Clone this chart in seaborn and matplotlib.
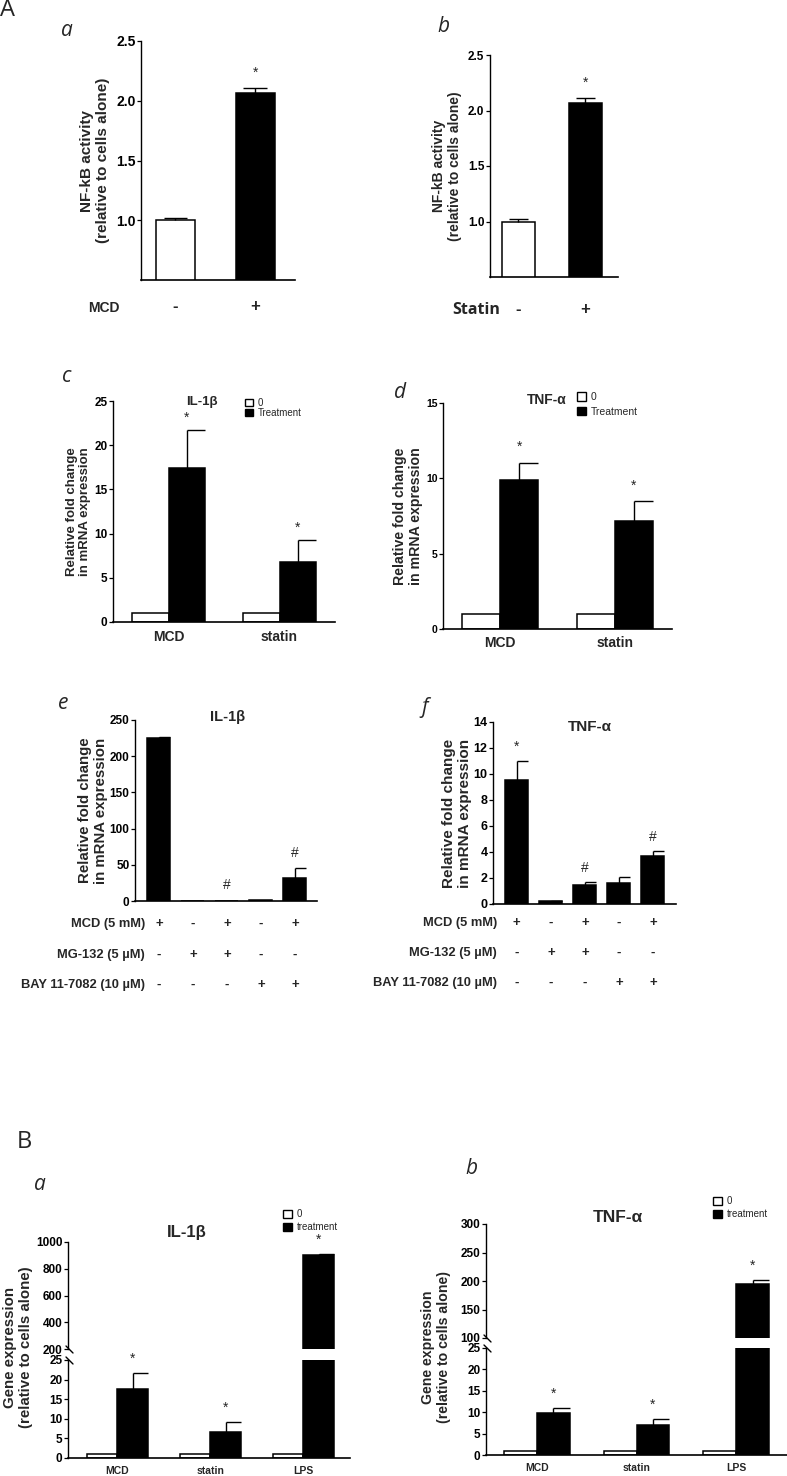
import numpy as np
import pandas as pd
import matplotlib
matplotlib.use('Agg')
import matplotlib.pyplot as plt
import matplotlib.transforms as mtransforms
from matplotlib.patches import Patch
import seaborn as sns

# ---------------- data ----------------
# A a/b: NF-kB activity
nfkb_cond = ['-', '+']
nfkb_mcd = [1.0, 2.065]
nfkb_mcd_err = [0.022, 0.045]
nfkb_statin = [1.0, 2.07]
nfkb_statin_err = [0.024, 0.04]

# A c/d: mRNA fold change
mrna_groups = ['MCD', 'statin']
il1b_ctrl = [1.0, 1.0]
il1b_treat = [17.4, 6.8]
il1b_treat_err = [4.3, 2.5]
tnfa_ctrl = [1.0, 1.0]
tnfa_treat = [9.9, 7.2]
tnfa_treat_err = [1.15, 1.3]

# A e/f: inhibitors
inhib_mcd = ['+', '-', '+', '-', '+']
inhib_mg132 = ['-', '+', '+', '-', '-']
inhib_bay = ['-', '-', '-', '+', '+']
inhib_rows = ['MCD (5 mM)', 'MG-132 (5 \u00b5M)', 'BAY 11-7082 (10 \u00b5M)']
il1b_inhib = [225.5, 0.5, 0.5, 1.0, 32.2]
il1b_inhib_err = [1.5, 0.0, 0.0, 0.0, 13.0]
il1b_inhib_mark = ['', '', '#', '', '#']
tnfa_inhib = [9.55, 0.22, 1.46, 1.64, 3.72]
tnfa_inhib_err = [1.45, 0.03, 0.26, 0.41, 0.35]
tnfa_inhib_mark = ['*', '', '#', '', '#']

# B a/b: gene expression
gene_groups = ['MCD', 'statin', 'LPS']
il1b_gene_ctrl = [1.0, 1.0, 1.0]
il1b_gene_treat = [17.5, 6.7, 905.0]
il1b_gene_err = [4.3, 2.6, 6.0]
tnfa_gene_ctrl = [1.0, 1.0, 1.0]
tnfa_gene_treat = [9.8, 7.1, 195.5]
tnfa_gene_err = [1.2, 1.4, 7.0]

# ---------------- style ----------------
sns.set_theme(style='ticks')
plt.rcParams['font.family'] = ['Liberation Sans', 'DejaVu Sans']
plt.rcParams['font.weight'] = 'bold'
plt.rcParams['axes.labelweight'] = 'bold'
plt.rcParams['axes.edgecolor'] = 'black'

W, H = 787, 1476
fig = plt.figure(figsize=(W / 100, H / 100), dpi=100)
fig.patch.set_facecolor('white')


def px_axes(x0, y0, x1, y1):
    return fig.add_axes([x0 / W, 1 - y1 / H, (x1 - x0) / W, (y1 - y0) / H])


def px_text(x, y, s, **kw):
    fig.text(x / W, 1 - y / H, s, **kw)


def style(ax, tick_size, xlab_size=10, xpad=4):
    sns.despine(ax=ax)
    ax.spines['left'].set_linewidth(1)
    ax.spines['bottom'].set_linewidth(1.2)
    ax.tick_params(axis='x', length=0, labelsize=xlab_size, pad=xpad)
    ax.tick_params(axis='y', length=3, width=0.9, labelsize=tick_size, pad=1, colors='black')
    ax.set_xlabel('')
    ax.set_ylabel('')
    ax.set_facecolor('none')


def simple_bars(ax, cats, vals, width):
    df = pd.DataFrame({'cond': cats, 'value': vals})
    sns.barplot(data=df, x='cond', y='value', hue='cond',
                palette={'-': 'white', '+': 'black'}, width=width,
                edgecolor='black', linewidth=1.1, errorbar=None,
                legend=False, ax=ax)
    return list(ax.patches)


def lane_bars(ax, vals, width):
    # one lane per treatment combination
    lanes = [m + g + b for m, g, b in zip(inhib_mcd, inhib_mg132, inhib_bay)]
    df = pd.DataFrame({'lane': lanes, 'value': vals})
    sns.barplot(data=df, x='lane', y='value', color='black', saturation=1,
                width=width, edgecolor='black', linewidth=1.1, errorbar=None, ax=ax)
    return list(ax.patches)


def grouped_bars(ax, groups, ctrl, treat, width):
    n = len(groups)
    df = pd.DataFrame({'group': list(groups) * 2,
                       'cond': ['0'] * n + ['treatment'] * n,
                       'value': list(ctrl) + list(treat)})
    sns.barplot(data=df, x='group', y='value', hue='cond',
                hue_order=['0', 'treatment'], palette=['white', 'black'],
                width=width, edgecolor='black', linewidth=1.1,
                errorbar=None, legend=False, ax=ax)
    bars = list(ax.patches)
    return bars[:n], bars[n:]


def add_errors(ax, bars, vals, errs, marks, half=True, size=10, off=9):
    for p, v, e, m in zip(bars, vals, errs, marks):
        xc = p.get_x() + p.get_width() / 2
        w = p.get_width()
        if e > 0:
            ax.errorbar([xc], [v], yerr=[[0], [e]], fmt='none',
                        ecolor='black', elinewidth=1, capsize=0)
            if half:
                ax.hlines(v + e, xc, xc + w / 2, colors='black', lw=1)
            else:
                ax.hlines(v + e, xc - w * 0.3, xc + w * 0.3, colors='black', lw=1)
        if m:
            ax.annotate(m, xy=(xc, v + e), xytext=(0, off), textcoords='offset points',
                        ha='center', va='center', fontsize=size, fontweight='normal')


def add_legend(ax, labels, x, y, size, spacing, hsize=0.9):
    handles = [Patch(facecolor='white', edgecolor='black', lw=1),
               Patch(facecolor='black', edgecolor='black', lw=1)]
    ax.legend(handles, labels, loc='upper left', bbox_to_anchor=(x / W, 1 - y / H),
              bbox_transform=fig.transFigure, frameon=False,
              prop={'size': size, 'weight': 'normal'}, handlelength=hsize,
              handleheight=hsize, handletextpad=0.5, labelspacing=spacing,
              borderpad=0, borderaxespad=0)


def row_signs(ax, bars, signs, ypx, size=9.5):
    trans = mtransforms.blended_transform_factory(ax.transData, fig.transFigure)
    for p, s in zip(bars, signs):
        xc = p.get_x() + p.get_width() / 2
        ax.text(xc, 1 - ypx / H, s, transform=trans, ha='center', va='center',
                fontsize=size, fontweight='bold')


def letter(x, y, s, italic=True, size=15):
    px_text(x, y, s, family=['Open Sans', 'DejaVu Sans'], fontweight='normal',
            style='italic' if italic else 'normal', fontsize=size,
            ha='left', va='center')


# ---------------- panel A a ----------------
letter(0, 10, 'A', italic=False, size=17)
letter(61, 31, 'a')
ax = px_axes(141, 41, 295, 280)
bars = simple_bars(ax, nfkb_cond, nfkb_mcd, 0.49)
add_errors(ax, bars, nfkb_mcd, nfkb_mcd_err, ['', '*'], half=False, off=11)
ax.set_xlim(-0.43, 1.5)
ax.set_ylim(0.5, 2.5)
ax.set_yticks([1.0, 1.5, 2.0, 2.5])
style(ax, 10, xlab_size=12, xpad=14)
ax.set_ylabel('NF-kB activity\n(relative to cells alone)', fontsize=11, labelpad=4)
px_text(104, 308, 'MCD', fontsize=10, ha='center', va='center')

# ---------------- panel A b ----------------
letter(437, 27, 'b')
ax = px_axes(490, 55, 618, 277)
bars = simple_bars(ax, nfkb_cond, nfkb_statin, 0.49)
add_errors(ax, bars, nfkb_statin, nfkb_statin_err, ['', '*'], half=False, off=11)
ax.set_xlim(-0.425, 1.485)
ax.set_ylim(0.5, 2.5)
ax.set_yticks([1.0, 1.5, 2.0, 2.5])
style(ax, 8.5, xlab_size=12, xpad=18)
ax.set_ylabel('NF-kB activity\n(relative to cells alone)', fontsize=10, labelpad=4)
px_text(476, 310, 'Statin', family=['Open Sans', 'DejaVu Sans'], fontsize=11.5,
        fontweight='bold', ha='center', va='center')

# ---------------- panel A c ----------------
letter(62, 377, 'c')
ax = px_axes(113, 401, 335, 622)
cb, tb = grouped_bars(ax, mrna_groups, il1b_ctrl, il1b_treat, 0.66)
add_errors(ax, tb, il1b_treat, il1b_treat_err, ['*', '*'])
ax.set_xlim(-0.5, 1.5)
ax.set_ylim(0, 25)
ax.set_yticks([0, 5, 10, 15, 20, 25])
style(ax, 8.5, xlab_size=10, xpad=6)
ax.set_ylabel('Relative fold change\nin mRNA expression', fontsize=9.5, labelpad=2)
px_text(202, 402, 'IL-1\u03b2', fontsize=9.5, ha='center', va='center')
add_legend(ax, ['0', 'Treatment'], 245, 398, 7, 0.0, hsize=0.8)

# ---------------- panel A d ----------------
letter(394, 392, 'd')
ax = px_axes(443, 403, 672, 629)
cb, tb = grouped_bars(ax, mrna_groups, tnfa_ctrl, tnfa_treat, 0.66)
add_errors(ax, tb, tnfa_treat, tnfa_treat_err, ['*', '*'], off=11)
ax.set_xlim(-0.5, 1.5)
ax.set_ylim(0, 15)
ax.set_yticks([0, 5, 10, 15])
style(ax, 7.5, xlab_size=10, xpad=5)
ax.set_ylabel('Relative fold change\nin mRNA expression', fontsize=10.2, labelpad=2)
px_text(547, 400, 'TNF-\u03b1', fontsize=10, ha='center', va='center')
add_legend(ax, ['0', 'Treatment'], 577, 392, 7.5, 0.45, hsize=0.85)

# ---------------- panel A e ----------------
letter(58, 704, 'e')
ax = px_axes(135, 720, 317, 901)
bars = lane_bars(ax, il1b_inhib, 0.68)
add_errors(ax, bars, il1b_inhib, il1b_inhib_err, il1b_inhib_mark, off=11)
ax.set_xlim(-0.7, 4.65)
ax.set_ylim(0, 250)
ax.set_yticks([0, 50, 100, 150, 200, 250])
style(ax, 8.5)
ax.set_xticklabels([])
ax.set_ylabel('Relative fold change\nin mRNA expression', fontsize=10.8, labelpad=1)
px_text(228, 717, 'IL-1\u03b2', fontsize=10.5, ha='center', va='center')
for lab, signs, ypx in zip(inhib_rows, [inhib_mcd, inhib_mg132, inhib_bay], [924, 955, 985]):
    px_text(145, ypx, lab, fontsize=9.3, ha='right', va='center')
    row_signs(ax, bars, signs, ypx)

# ---------------- panel A f ----------------
letter(421, 707, 'f')
ax = px_axes(493, 722, 676, 904)
bars = lane_bars(ax, tnfa_inhib, 0.68)
add_errors(ax, bars, tnfa_inhib, tnfa_inhib_err, tnfa_inhib_mark, off=10)
ax.set_xlim(-0.7, 4.68)
ax.set_ylim(0, 14)
ax.set_yticks(np.arange(0, 15, 2))
style(ax, 9)
ax.set_xticklabels([])
ax.set_ylabel('Relative fold change\nin mRNA expression', fontsize=11, labelpad=1)
px_text(590, 727, 'TNF-\u03b1', fontsize=11, ha='center', va='center')
for lab, signs, ypx in zip(inhib_rows, [inhib_mcd, inhib_mg132, inhib_bay], [923, 953, 983]):
    px_text(497, ypx, lab, fontsize=9.3, ha='right', va='center')
    row_signs(ax, bars, signs, ypx)


# ---------------- panel B (broken axes) ----------------
def broken_panel(x0, x1, up, low, ctrl, treat, err, up_lim, up_ticks, xlim):
    ax_up = px_axes(x0, up[0], x1, up[1])
    ax_lo = px_axes(x0, low[0], x1, low[1])
    for a in (ax_up, ax_lo):
        cb, tb = grouped_bars(a, gene_groups, ctrl, treat, 0.66)
        add_errors(a, tb, treat, err, ['*'] * 3, off=10)
        a.set_xlim(*xlim)
    ax_up.set_ylim(*up_lim)
    ax_up.set_yticks(up_ticks)
    ax_lo.set_ylim(0, 25)
    ax_lo.set_yticks([0, 5, 10, 15, 20, 25])
    style(ax_up, 8.5)
    style(ax_lo, 8.5, xlab_size=7.5, xpad=6)
    ax_up.spines['bottom'].set_visible(False)
    ax_up.set_xticks([])
    # diagonal break marks on the left spine
    w = x1 - x0
    hu = up[1] - up[0]
    hl = low[1] - low[0]
    ax_up.plot([-2 / w, 5 / w], [3 / hu, -4 / hu], transform=ax_up.transAxes,
               color='black', lw=1, clip_on=False)
    ax_lo.plot([-2 / w, 5 / w], [1 + 3 / hl, 1 - 4 / hl], transform=ax_lo.transAxes,
               color='black', lw=1, clip_on=False)
    return ax_up, ax_lo


letter(17, 1142, 'B', italic=False, size=17)
letter(34, 1184, 'a')
ax_up, ax_lo = broken_panel(68, 350, (1242, 1349), (1360, 1458), il1b_gene_ctrl,
                            il1b_gene_treat, il1b_gene_err, (200, 1000),
                            [200, 400, 600, 800, 1000], (-0.53, 2.5))
px_text(18, 1347, 'Gene expression\n(relative to cells alone)', fontsize=10.8,
        rotation=90, ha='center', va='center', multialignment='center')
px_text(187, 1232, 'IL-1\u03b2', fontsize=12, ha='center', va='center')
add_legend(ax_up, ['0', 'treatment'], 283, 1209, 7, 0.35)

letter(465, 1168, 'b')
ax_up, ax_lo = broken_panel(486, 787, (1224, 1338), (1348, 1455), tnfa_gene_ctrl,
                            tnfa_gene_treat, tnfa_gene_err, (100, 300),
                            [100, 150, 200, 250, 300], (-0.51, 2.51))
px_text(436, 1347, 'Gene expression\n(relative to cells alone)', fontsize=10.2,
        rotation=90, ha='center', va='center', multialignment='center')
px_text(618, 1217, 'TNF-\u03b1', fontsize=12.5, ha='center', va='center')
add_legend(ax_up, ['0', 'treatment'], 713, 1196, 7, 0.35)

fig.savefig('out.png', dpi=100, facecolor='white')
